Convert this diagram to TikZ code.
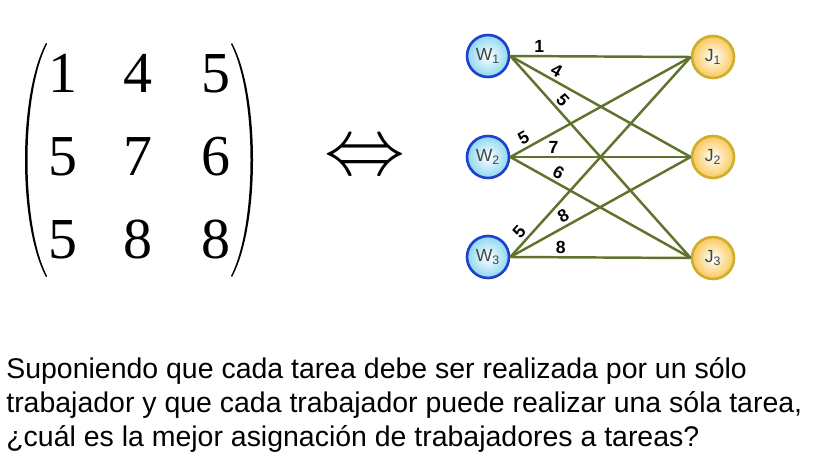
\documentclass[tikz,border=0pt]{standalone}
\usepackage{fontspec}
\setmainfont{Liberation Sans}
\newfontfamily\matfont{Liberation Serif}
\usetikzlibrary{positioning}

\definecolor{wborder}{RGB}{30,65,205}
\definecolor{wfill}{RGB}{140,215,240}
\definecolor{jborder}{RGB}{205,175,45}
\definecolor{jfill}{RGB}{250,200,90}
\definecolor{edgecol}{RGB}{95,115,45}
\definecolor{nodetext}{RGB}{60,70,70}

\begin{document}
\begin{tikzpicture}[x=0.02cm,y=-0.02cm,
    worker/.style={circle,draw=wborder,line width=1.5pt,minimum size=0.84cm,inner sep=0pt,
      inner color=white,outer color=wfill,text=nodetext,font=\fontsize{10}{10}\selectfont},
    job/.style={circle,draw=jborder,line width=1.5pt,minimum size=0.84cm,inner sep=0pt,
      inner color=white,outer color=jfill,text=nodetext,font=\fontsize{10}{10}\selectfont},
    edge/.style={draw=edgecol,line width=1.4pt},
    weight/.style={font=\bfseries\fontsize{10}{10}\selectfont,inner sep=1.5pt},
    entry/.style={anchor=base,inner sep=0pt,font=\matfont\fontsize{33}{33}\selectfont},
    textline/.style={anchor=base west,inner sep=0pt,font=\fontsize{16.2}{19}\selectfont}]
    \useasboundingbox (0,0) rectangle (830,466);

    % Cost matrix
    \node[entry] (m11) at (63,92) {1};
    \node[entry] (m12) at (138,92) {4};
    \node[entry] (m13) at (216,92) {5};
    \node[entry] (m21) at (63,175) {5};
    \node[entry] (m22) at (138,175) {7};
    \node[entry] (m23) at (216,175) {6};
    \node[entry] (m31) at (63,258) {5};
    \node[entry] (m32) at (138,258) {8};
    \node[entry] (m33) at (216,258) {8};
    \fill (46,43) .. controls (18,95) and (18,225) .. (46,277)
      -- (47,276) .. controls (21,225) and (21,95) .. (47,44) -- cycle;
    \fill (232,43) .. controls (260,95) and (260,225) .. (232,277)
      -- (231,276) .. controls (257,225) and (257,95) .. (231,44) -- cycle;

    % Equivalence
    \node (eq) at (365,160) {\scalebox{1.85}{\fontsize{24}{24}\selectfont$\Leftrightarrow$}};

    % Workers and jobs
    \node[worker] (w1) at (488,56) {W\textsubscript{1}};
    \node[worker] (w2) at (488,157) {W\textsubscript{2}};
    \node[worker] (w3) at (488,257) {W\textsubscript{3}};
    \node[job] (j1) at (713,57) {J\textsubscript{1}};
    \node[job] (j2) at (713,157) {J\textsubscript{2}};
    \node[job] (j3) at (713,258) {J\textsubscript{3}};

    % Assignments with costs
    \draw[edge] (w1.east) -- node[weight,pos=.16,above] {1} (j1.west);
    \draw[edge] (w1.east) -- node[weight,pos=.23,above,sloped] {4} (j2.west);
    \draw[edge] (w1.east) -- node[weight,pos=.25,above,sloped] {5} (j3.west);
    \draw[edge] (w2.east) -- node[weight,pos=.1,above,sloped] {5} (j1.west);
    \draw[edge] (w2.east) -- node[weight,pos=.24,above] {7} (j2.west);
    \draw[edge] (w2.east) -- node[weight,pos=.24,above,sloped] {6} (j3.west);
    \draw[edge] (w3.east) -- node[weight,pos=.09,above,sloped] {5} (j1.west);
    \draw[edge] (w3.east) -- node[weight,pos=.32,above,sloped] {8} (j2.west);
    \draw[edge] (w3.east) -- node[weight,pos=.28,above] {8} (j3.west);

    % Question
    \node[textline] (t1) at (6,378) {Suponiendo que cada tarea debe ser realizada por un sólo};
    \node[textline] (t2) at (6,412) {trabajador y que cada trabajador puede realizar una sóla tarea,};
    \node[textline] (t3) at (6,446) {¿cuál es la mejor asignación de trabajadores a tareas?};
\end{tikzpicture}
\end{document}
